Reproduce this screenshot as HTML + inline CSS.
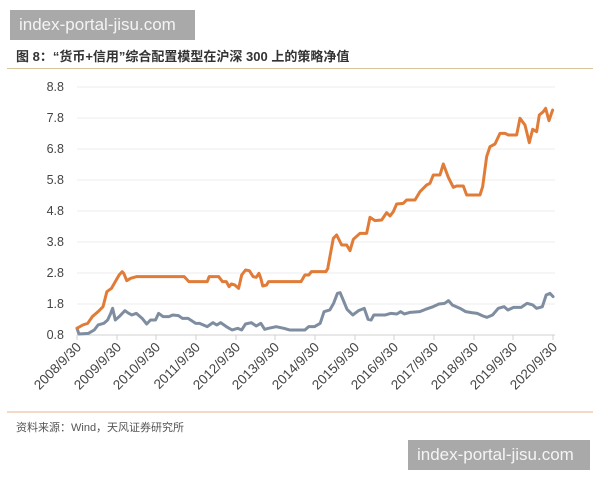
<!DOCTYPE html><html><head><style>
body{margin:0;width:600px;height:480px;background:#fff;overflow:hidden;position:relative;font-family:"Liberation Sans","Noto Sans CJK SC",sans-serif}
.wm{position:absolute;background:#a9a9a9;color:#f4f4f4;font-size:17px;line-height:30px;padding:0 9px}
</style></head><body>
<div class="wm" style="left:10px;top:10px;width:167px">index-portal-jisu.com</div>
<div style="position:absolute;left:16px;top:46px;font-size:13px;font-weight:bold;color:#333">图 8：“货币+信用”综合配置模型在沪深 300 上的策略净值</div>
<div style="position:absolute;left:7px;top:68px;width:586px;height:1px;background:#d8c59c"></div>
<svg width="600" height="480" style="position:absolute;left:0;top:0">
<g stroke="#ececec" stroke-width="1">
<line x1="77" x2="555" y1="87" y2="87"/><line x1="77" x2="555" y1="118" y2="118"/><line x1="77" x2="555" y1="149" y2="149"/><line x1="77" x2="555" y1="180" y2="180"/><line x1="77" x2="555" y1="211" y2="211"/><line x1="77" x2="555" y1="242" y2="242"/><line x1="77" x2="555" y1="273" y2="273"/><line x1="77" x2="555" y1="304" y2="304"/>
</g>
<line x1="77" x2="555" y1="335" y2="335" stroke="#d0d0d0"/>
<g stroke="#d0d0d0"><line x1="77" x2="77" y1="335" y2="340"/><line x1="117" x2="117" y1="335" y2="340"/><line x1="156" x2="156" y1="335" y2="340"/><line x1="196" x2="196" y1="335" y2="340"/><line x1="236" x2="236" y1="335" y2="340"/><line x1="275" x2="275" y1="335" y2="340"/><line x1="315" x2="315" y1="335" y2="340"/><line x1="355" x2="355" y1="335" y2="340"/><line x1="394" x2="394" y1="335" y2="340"/><line x1="434" x2="434" y1="335" y2="340"/><line x1="474" x2="474" y1="335" y2="340"/><line x1="513" x2="513" y1="335" y2="340"/><line x1="553" x2="553" y1="335" y2="340"/></g>
<g font-size="12.5" fill="#444" text-anchor="end">
<text x="64" y="91">8.8</text><text x="64" y="122">7.8</text><text x="64" y="153">6.8</text><text x="64" y="184">5.8</text><text x="64" y="215">4.8</text><text x="64" y="246">3.8</text><text x="64" y="277">2.8</text><text x="64" y="308">1.8</text><text x="64" y="339">0.8</text>
</g>
<g font-size="13.5" fill="#444" text-anchor="end">
<text transform="translate(82,348) rotate(-45)">2008/9/30</text>
<text transform="translate(122,348) rotate(-45)">2009/9/30</text>
<text transform="translate(161,348) rotate(-45)">2010/9/30</text>
<text transform="translate(201,348) rotate(-45)">2011/9/30</text>
<text transform="translate(241,348) rotate(-45)">2012/9/30</text>
<text transform="translate(280,348) rotate(-45)">2013/9/30</text>
<text transform="translate(320,348) rotate(-45)">2014/9/30</text>
<text transform="translate(360,348) rotate(-45)">2015/9/30</text>
<text transform="translate(399,348) rotate(-45)">2016/9/30</text>
<text transform="translate(439,348) rotate(-45)">2017/9/30</text>
<text transform="translate(479,348) rotate(-45)">2018/9/30</text>
<text transform="translate(518,348) rotate(-45)">2019/9/30</text>
<text transform="translate(558,348) rotate(-45)">2020/9/30</text>
</g>
<g fill="none" stroke-width="3" stroke-linejoin="round" stroke-linecap="round">
<polyline transform="matrix(0.383 0 0 0.3333 0.4 260)" vector-effect="non-scaling-stroke" stroke="#7f8da0" points="200,205 205,222 230,220 245,210 255,195 270,190 280,180 288,160 293,145 300,180 310,170 325,152 335,160 343,165 355,160 370,175 382,192 392,180 405,180 413,160 425,170 440,170 450,165 465,167 475,175 490,175 510,190 520,190 540,200 555,188 565,195 575,188 590,200 605,210 620,205 630,210 640,192 655,188 668,198 680,190 690,208 700,205 720,200 740,205 755,210 795,210 805,200 820,200 835,190 845,155 860,150 870,130 880,100 887,98 895,120 905,148 920,165 935,152 950,145 960,178 968,180 975,165 1005,165 1020,160 1035,162 1045,155 1055,162 1070,157 1095,155 1110,148 1130,140 1145,132 1160,130 1170,122 1180,135 1200,145 1215,155 1230,158 1245,160 1260,168 1270,172 1285,165 1300,145 1315,140 1325,150 1340,142 1360,142 1365,138 1375,130 1390,135 1400,145 1410,142 1415,140 1425,105 1435,100 1443,110"/>
<polyline transform="matrix(0.383 0 0 0.3333 0.4 260)" vector-effect="non-scaling-stroke" stroke="#e17c38" points="200,205 215,195 228,190 240,170 255,155 268,140 278,95 290,85 300,65 310,45 318,35 322,40 330,62 340,55 355,50 480,50 492,65 540,65 545,50 570,50 580,65 590,65 597,80 603,72 612,75 622,85 630,45 640,30 650,32 660,50 668,52 675,40 680,55 685,78 695,75 700,65 785,65 795,45 805,45 812,35 850,35 855,25"/>
<polyline transform="matrix(0.3333 0 0 0.3333 300 80)" vector-effect="non-scaling-stroke" stroke="#e17c38" points="84,561 100,475 110,465 125,495 140,495 150,512 160,478 180,460 200,460 210,412 225,422 245,420 260,398 270,408 280,395 290,372 310,370 320,360 345,360 360,335 380,315 390,310 400,285 420,285 430,252 445,292 460,322 470,318 490,318 500,345 540,345 548,320 560,230 570,200 585,192 600,160 615,160 625,165 650,165 660,115 675,135 688,188 698,148 710,155 718,105 730,95 737,85 747,122 758,90"/>
</g>
</svg>
<div style="position:absolute;left:7px;top:411px;width:586px;height:2px;background:#f3d9c6"></div>
<div style="position:absolute;left:16px;top:419px;font-size:11px;color:#555">资料来源：Wind，天风证券研究所</div>
<div class="wm" style="left:408px;top:440px;width:164px">index-portal-jisu.com</div>
</body></html>
